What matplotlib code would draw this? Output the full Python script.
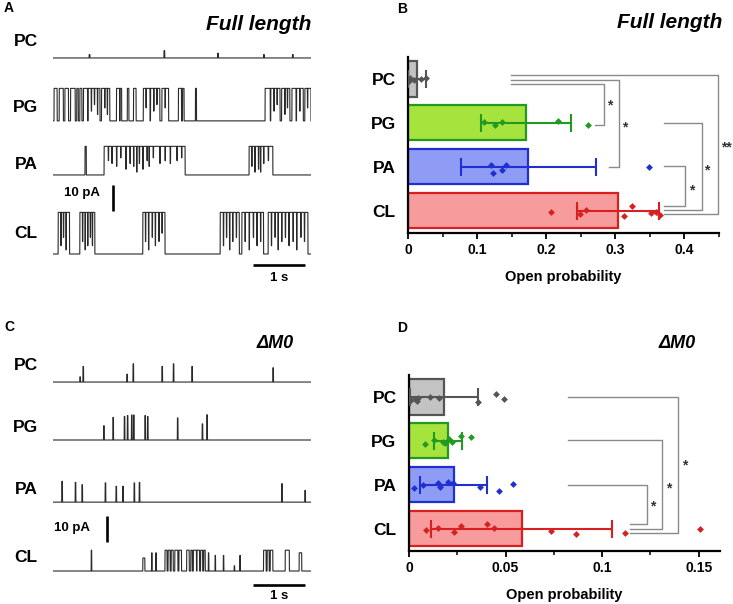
import numpy as np
import matplotlib
matplotlib.use("Agg")
import matplotlib.pyplot as plt
from matplotlib.ticker import MultipleLocator

plt.rcParams['font.family'] = ['Liberation Sans', 'DejaVu Sans']
plt.rcParams['font.weight'] = 'bold'

# ---------------- data ----------------
groups = ["PC", "PG", "PA", "CL"]

# single-channel traces, times in s, amplitudes in pA
fl_pc_t = [0.70, 2.15, 3.19, 4.08, 4.64]
fl_pc_a = [1.3, 2.8, 1.8, 1.3, 1.3]
fl_pg_open = [(0.02, 0.08), (0.12, 0.20), (0.23, 0.30), (0.34, 0.43), (0.46, 0.49),
              (0.52, 0.56), (0.59, 0.67), (0.68, 0.91), (0.94, 1.10), (1.23, 1.29),
              (1.30, 1.33), (1.44, 1.47), (1.56, 1.61), (1.75, 1.88), (1.89, 2.07),
              (2.11, 2.24), (2.43, 2.49), (2.51, 2.54), (2.76, 2.78), (4.11, 4.21),
              (4.22, 4.40), (4.43, 4.59), (4.63, 4.71), (4.72, 4.85), (4.88, 5.00)]
fl_pg_flick = [(0.74, 0.7), (0.80, 0.5), (0.86, 0.8), (1.00, 0.6), (1.05, 0.8),
               (1.80, 0.6), (1.95, 0.7), (2.01, 0.5), (2.17, 0.6), (4.28, 0.7),
               (4.34, 0.5), (4.49, 0.8), (4.54, 0.6), (4.78, 0.7), (4.93, 0.6)]
fl_pa_open = [(0.62, 0.645), (0.99, 2.56), (3.80, 4.26)]
fl_pa_flick = [(1.07, 0.5), (1.14, 0.6), (1.23, 0.7), (1.31, 0.4), (1.41, 0.8),
               (1.49, 0.6), (1.56, 0.7), (1.62, 0.9), (1.67, 0.6), (1.74, 0.8),
               (1.82, 0.5), (1.86, 0.7), (1.94, 0.4), (2.07, 0.6), (2.17, 0.5),
               (2.27, 0.6), (2.40, 0.5), (2.49, 0.4), (3.85, 0.7), (3.91, 0.9),
               (3.98, 0.8), (4.02, 0.9), (4.08, 0.6), (4.17, 0.5)]
fl_cl_open = [(0.10, 0.32), (0.52, 0.81), (1.74, 2.17), (3.24, 3.61), (3.66, 4.08), (4.17, 4.94)]
fl_cl_flick = [(0.15, 0.8), (0.20, 0.6), (0.25, 0.9), (0.57, 0.7), (0.62, 0.9),
               (0.67, 0.8), (0.72, 0.6), (0.76, 0.8), (1.79, 0.7), (1.85, 0.9),
               (1.92, 0.6), (1.98, 0.8), (2.05, 0.7), (2.11, 0.5), (3.30, 0.8),
               (3.36, 0.6), (3.42, 0.9), (3.48, 0.7), (3.55, 0.6), (3.72, 0.7),
               (3.80, 0.9), (3.88, 0.6), (3.95, 0.8), (4.02, 0.7), (4.23, 0.8),
               (4.30, 0.6), (4.36, 0.9), (4.43, 0.7), (4.50, 0.6), (4.57, 0.8),
               (4.65, 0.7), (4.72, 0.9), (4.80, 0.6), (4.87, 0.7)]

dm_pc_t = [0.52, 0.58, 1.43, 1.55, 2.11, 2.33, 2.69, 4.26]
dm_pc_a = [2.0, 6.0, 3.0, 7.0, 6.0, 7.0, 6.0, 5.5]
dm_pg_t = [0.98, 1.16, 1.38, 1.44, 1.52, 1.56, 1.78, 1.83, 2.41, 2.89, 2.98]
dm_pg_a = [5.5, 8.7, 9.0, 9.4, 9.6, 9.6, 9.4, 9.0, 8.5, 6.2, 9.7]
dm_pa_t = [0.17, 0.43, 0.56, 1.01, 1.22, 1.35, 1.57, 1.67, 4.43, 4.88]
dm_pa_a = [8.0, 7.6, 6.7, 7.4, 6.1, 6.1, 7.4, 7.6, 7.1, 4.5]
dm_cl_open = [(0.74, 0.75, 8), (1.74, 1.78, 5), (1.91, 1.92, 7), (1.99, 2.00, 7),
              (2.17, 2.21, 8), (2.23, 2.27, 8), (2.29, 2.33, 8), (2.36, 2.42, 8),
              (2.44, 2.49, 8), (2.59, 2.64, 8), (2.67, 2.70, 8), (2.72, 2.78, 8),
              (2.79, 2.84, 8), (2.86, 2.90, 8), (2.92, 2.95, 8), (3.01, 3.02, 7),
              (3.14, 3.15, 6), (3.30, 3.31, 6), (3.51, 3.52, 2), (3.62, 3.63, 6),
              (4.08, 4.13, 8), (4.15, 4.19, 8), (4.21, 4.26, 8), (4.50, 4.58, 8),
              (4.77, 4.82, 7)]

# open probability, full length (mean, SD, points)
fl_mean = [0.013, 0.170, 0.174, 0.304]
fl_sd = [0.013, 0.065, 0.098, 0.059]
fl_pts = [[0.001, 0.003, 0.008, 0.018, 0.025],
          [0.110, 0.125, 0.136, 0.217, 0.260],
          [0.120, 0.123, 0.135, 0.141, 0.348],
          [0.206, 0.249, 0.258, 0.312, 0.324, 0.352, 0.359, 0.365]]
fl_jit = [[-0.05, 0.03, -0.02, 0.0, 0.02],
          [0.015, -0.04, 0.015, 0.05, -0.04],
          [0.045, -0.14, -0.08, 0.05, 0.0],
          [-0.02, -0.08, 0.015, -0.12, 0.10, -0.06, -0.02, -0.09]]

# open probability, dM0
dm_mean = [0.0181, 0.0203, 0.0231, 0.0583]
dm_sd = [0.0178, 0.0073, 0.0175, 0.0467]
dm_pts = [[0.0009, 0.0031, 0.0040, 0.0048, 0.0109, 0.0157, 0.0355, 0.0448, 0.0491],
          [0.0083, 0.0129, 0.0178, 0.0186, 0.0209, 0.0221, 0.0270, 0.0320],
          [0.0026, 0.0074, 0.0148, 0.0160, 0.0200, 0.0230, 0.0370, 0.0466, 0.0540],
          [0.0088, 0.0148, 0.0233, 0.0270, 0.0405, 0.0441, 0.0734, 0.0864, 0.1120, 0.1505]]
dm_jit = [[-0.08, -0.05, -0.10, -0.03, 0.0, -0.015, -0.11, 0.06, -0.05],
          [-0.08, 0.015, -0.015, -0.04, 0.04, -0.02, 0.11, 0.09],
          [-0.08, 0.0, 0.04, -0.04, 0.06, 0.045, -0.05, -0.14, 0.01],
          [-0.03, 0.015, -0.08, 0.07, 0.11, 0.02, -0.06, -0.12, -0.09, -0.015]]

fills = ["#c3c3c3", "#a6e33c", "#8e9cf6", "#f79b9c"]
edges = ["#555555", "#229a22", "#1f2fd0", "#d82020"]

# ---------------- helpers ----------------
W, H = 733, 604
fig = plt.figure(figsize=(W / 100, H / 100), dpi=100)


def box(l, t, r, b):
    return [l / W, 1 - b / H, (r - l) / W, (b - t) / H]


def ftext(x, y, s, **kw):
    fig.text(x / W, 1 - y / H, s, **kw)


tgrid = np.linspace(0, 5, 5001)


def make_trace(opens, amp=None, flick=()):
    y = np.zeros_like(tgrid)
    for ev in opens:
        a = ev[2] if len(ev) > 2 else amp
        y[(tgrid >= ev[0]) & (tgrid < ev[1])] = a
    for tf, d in flick:
        m = (tgrid >= tf) & (tgrid < tf + 0.008)
        y[m] = y[m] * (1 - d)
    return y


def spikes(times, amps, w=0.012):
    return [(t, t + w, a) for t, a in zip(times, amps)]


def trace_panel(rect, ylim, traces, offsets, vbar, tbar_y):
    ax = fig.add_axes(rect)
    ax.set_xlim(0, 5)
    ax.set_ylim(*ylim)
    ax.axis("off")
    for y, off in zip(traces, offsets):
        ax.plot(tgrid, y + off, color="#2a2a2a", lw=0.8)
    ax.plot([vbar[0], vbar[0]], [vbar[1], vbar[1] + 10], color="black", lw=1.9,
            solid_capstyle="butt", clip_on=False)
    ax.plot([3.88, 4.88], [tbar_y, tbar_y], color="black", lw=1.9,
            solid_capstyle="butt", clip_on=False)
    return ax


def bar_panel(rect, means, sds, pts, jits, xmax, step, ticklabels, brackets):
    ax = fig.add_axes(rect)
    ys = [3, 2, 1, 0]
    ax.barh(ys, means, height=0.8, color=fills, edgecolor=edges, linewidth=1.6, zorder=2)
    for i, y in enumerate(ys):
        ax.errorbar(means[i], y, xerr=sds[i], fmt="none", ecolor=edges[i],
                    elinewidth=1.5, capsize=6.5, capthick=1.5, zorder=3)
        ax.scatter(pts[i], np.array(jits[i]) + y, marker="D", s=12, color=edges[i],
                   zorder=4, linewidths=0)
    ax.set_xlim(0, xmax)
    ax.set_ylim(-0.5, 3.5)
    ax.set_yticks(ys)
    ax.set_yticklabels(groups, fontsize=12.5, fontweight="bold")
    ax.tick_params(axis="y", length=0, pad=9)
    ticks = [i * step for i in range(len(ticklabels))]
    ax.set_xticks(ticks)
    ax.set_xticklabels(ticklabels, fontsize=10, fontweight="bold")
    ax.xaxis.set_minor_locator(MultipleLocator(step / 2))
    ax.tick_params(axis="x", which="major", length=4, width=1.3, direction="out")
    ax.tick_params(axis="x", which="minor", length=3, width=1.1, direction="out")
    for s in ["top", "right"]:
        ax.spines[s].set_visible(False)
    for s in ["left", "bottom"]:
        ax.spines[s].set_linewidth(1.6)
    ax.set_xlabel("Open probability", fontsize=10.5, fontweight="bold", labelpad=9)
    # significance brackets
    for (ytop, x0top, ybot, x0bot, xr, lab, sx, sy) in brackets:
        ax.plot([x0top, xr, xr, x0bot], [ytop, ytop, ybot, ybot], color="#8a8a8a",
                lw=1.0, clip_on=False, zorder=1)
        ax.text(sx, sy, lab, fontsize=10, color="#333333", ha="left", va="center",
                clip_on=False)
    return ax


# ---------------- panel A ----------------
fl_traces = [make_trace(spikes(fl_pc_t, fl_pc_a, 0.015)),
             make_trace(fl_pg_open, 12.5, fl_pg_flick),
             make_trace(fl_pa_open, 11.0, fl_pa_flick),
             make_trace(fl_cl_open, 16.0, fl_cl_flick)]
trace_panel(box(53, 40, 311, 290), (-13.85, 82.31), fl_traces,
            [75.4, 51.2, 30.4, 0.0], (1.16, 16.5), -4.2)

for lab, yy in zip(groups, [42, 107, 164, 233]):
    ftext(26, yy, lab, fontsize=12.5, fontweight="bold", ha="center", va="center")
ftext(82, 193, "10 pA", fontsize=9.5, fontweight="bold", ha="center", va="center")
ftext(279, 278, "1 s", fontsize=9.5, fontweight="bold", ha="center", va="center")
ftext(4, 8, "A", fontsize=10, fontweight="bold", ha="left", va="center")
ftext(311, 24, "Full length", fontsize=15, fontweight="bold", style="italic",
      ha="right", va="center")

# ---------------- panel C ----------------
dm_traces = [make_trace(spikes(dm_pc_t, dm_pc_a)),
             make_trace(spikes(dm_pg_t, dm_pg_a)),
             make_trace(spikes(dm_pa_t, dm_pa_a)),
             make_trace(dm_cl_open)]
trace_panel(box(53, 355, 311, 600), (-11.15, 83.1), dm_traces,
            [72.7, 50.4, 26.5, 0.0], (1.05, 11.2), -5.4)

for lab, yy in zip(groups, [365, 428, 489, 558]):
    ftext(26, yy, lab, fontsize=12.5, fontweight="bold", ha="center", va="center")
ftext(72, 528, "10 pA", fontsize=9.5, fontweight="bold", ha="center", va="center")
ftext(279, 596, "1 s", fontsize=9.5, fontweight="bold", ha="center", va="center")
ftext(4, 327, "C", fontsize=10, fontweight="bold", ha="left", va="center")
ftext(294, 343, "ΔM0", fontsize=13, fontweight="bold", style="italic",
      ha="right", va="center")

# ---------------- panel B ----------------
fl_brackets = [
    (2.88, 0.149, 1.95, 0.270, 0.283, "*", 0.288, 2.40),
    (2.98, 0.149, 0.99, 0.290, 0.305, "*", 0.310, 1.90),
    (3.08, 0.149, -0.08, 0.371, 0.448, "**", 0.453, 1.43),
    (2.00, 0.371, 0.01, 0.371, 0.425, "*", 0.429, 0.92),
    (1.01, 0.371, 0.10, 0.371, 0.401, "*", 0.406, 0.47),
]
bar_panel(box(408.3, 57, 719, 232.7), fl_mean, fl_sd, fl_pts, fl_jit, 0.45, 0.1,
          ["0", "0.1", "0.2", "0.3", "0.4"], fl_brackets)
ftext(397, 9, "B", fontsize=10, fontweight="bold", ha="left", va="center")
ftext(722, 22, "Full length", fontsize=15, fontweight="bold", style="italic",
      ha="right", va="center")

# ---------------- panel D ----------------
dm_brackets = [
    (3.00, 0.0824, -0.09, 0.1143, 0.1393, "*", 0.1412, 1.45),
    (2.01, 0.0824, 0.00, 0.1143, 0.1312, "*", 0.1330, 0.92),
    (1.00, 0.0824, 0.10, 0.1143, 0.1233, "*", 0.1250, 0.50),
]
bar_panel(box(409, 375, 720, 550.7), dm_mean, dm_sd, dm_pts, dm_jit, 0.161, 0.05,
          ["0", "0.05", "0.1", "0.15"], dm_brackets)
ftext(397, 328, "D", fontsize=10, fontweight="bold", ha="left", va="center")
ftext(696, 343, "ΔM0", fontsize=13, fontweight="bold", style="italic",
      ha="right", va="center")

fig.savefig("out.png", dpi=100)
